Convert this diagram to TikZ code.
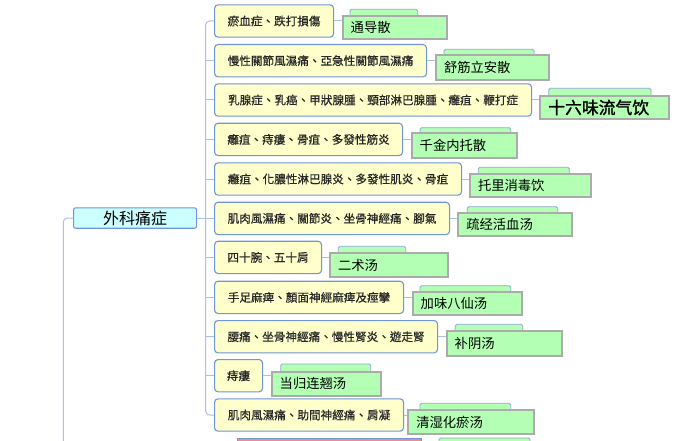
\documentclass[tikz,border=0pt]{standalone}
\usepackage{fontspec}
\newfontfamily\tcfont{Noto Sans CJK TC}
\newfontfamily\tcbold[FakeBold=0.5]{Noto Sans CJK TC}
\newfontfamily\scfont{Noto Sans CJK SC}
\newfontfamily\scbold[FakeBold=1.5]{Noto Sans CJK SC}
\definecolor{yfill}{HTML}{FFFFCC}
\definecolor{yborder}{HTML}{7096D8}
\definecolor{ytext}{HTML}{262626}
\definecolor{cfill}{HTML}{CCFFFF}
\definecolor{gfill}{HTML}{B3FFB3}
\definecolor{gborder}{HTML}{ABABAB}
\definecolor{tborder}{HTML}{8EA8D2}
\definecolor{linec}{HTML}{A9C0E8}
\definecolor{rfill}{HTML}{F28B8B}
\tikzset{
  ybox/.style={draw=yborder, fill=yfill, line width=1.1pt, rounded corners=3.5pt,
    anchor=north west, minimum height=32.3pt, inner sep=0pt, text=ytext,
    font={\tcbold\fontsize{11.6pt}{13pt}\selectfont}},
  mainbox/.style={draw=yborder, fill=cfill, line width=1.1pt, rounded corners=2pt,
    anchor=north west, minimum width=123pt, minimum height=20.4pt, inner sep=0pt,
    font={\tcfont\fontsize{16pt}{18pt}\selectfont}},
  gbox/.style={draw=gborder, fill=gfill, line width=2pt, anchor=north west,
    inner xsep=8pt, inner ysep=0pt, align=left, minimum height=23.8pt,
    font={\scfont\fontsize{13.3pt}{15pt}\selectfont}},
  gtab/.style={draw=tborder, fill=gfill, line width=0.8pt, rounded corners=1.5pt},
  conn/.style={draw=linec, line width=1pt},
}
\begin{document}
\begin{tikzpicture}[x=1pt,y=-1pt]
\useasboundingbox (0,0) rectangle (690,441);
\clip (0,0) rectangle (690,441);
\fill[white] (0,0) rectangle (690,441);

% tabs behind green boxes
\path[gtab] (350,9.3) rectangle (417.7,18);
\path[gtab] (444,49.3) rectangle (534,58);
\path[gtab] (548.7,88.3) rectangle (651,98);
\path[gtab] (420,127.7) rectangle (510.7,135);
\path[gtab] (478.3,167.3) rectangle (569.3,176);
\path[gtab] (467.3,206.7) rectangle (557.7,215);
\path[gtab] (338.3,246.3) rectangle (405.7,255);
\path[gtab] (420,285.7) rectangle (510.7,294);
\path[gtab] (455.3,324.3) rectangle (522.7,333);
\path[gtab] (280.7,364) rectangle (370.7,374);
\path[gtab] (420,403.3) rectangle (510.7,412);
\path[gtab] (439,438) rectangle (530,446);

% main node
\node[mainbox] (main) at (73,207.3) {外科痛症};

% yellow nodes
\node[ybox, minimum width=119pt] (y1) at (214,4.3) {瘀血症、跌打損傷};
\node[ybox, minimum width=212pt] (y2) at (214,44) {慢性關節風濕痛、亞急性關節風濕痛};
\node[ybox, minimum width=317pt] (y3) at (214,83.3) {乳腺症、乳癌、甲狀腺腫、頸部淋巴腺腫、癰疽、鞭打症};
\node[ybox, minimum width=188pt] (y4) at (214,122.7) {癰疽、痔瘻、骨疽、多發性筋炎};
\node[ybox, minimum width=247pt] (y5) at (214,162.3) {癰疽、化膿性淋巴腺炎、多發性肌炎、骨疽};
\node[ybox, minimum width=235pt] (y6) at (214,201.7) {肌肉風濕痛、關節炎、坐骨神經痛、腳氣};
\node[ybox, minimum width=107pt] (y7) at (214,240.7) {四十腕、五十肩};
\node[ybox, minimum width=189pt] (y8) at (214,280.7) {手足麻痺、顏面神經麻痺及痙攣};
\node[ybox, minimum width=223pt] (y9) at (214,320) {腰痛、坐骨神經痛、慢性腎炎、遊走腎};
\node[ybox, minimum width=48pt] (y10) at (214,359) {痔瘻};
\node[ybox, minimum width=189pt] (y11) at (214,398.3) {肌肉風濕痛、助間神經痛、肩凝};

% red node at the bottom (cut off)
\node[draw=yborder, fill=rfill, line width=1.1pt, anchor=north west,
      minimum width=184pt, minimum height=20pt, inner sep=0pt] (next) at (237,437.7) {};

% coordinates for free ends
\coordinate (bus) at (205.7,0);
\coordinate (rootbot) at (63.3,450);

% connectors (drawn before green boxes)
\draw[conn, rounded corners=4pt] (main.west) -| (rootbot);
\draw[conn] (main.east) -- (main.east -| bus);
\draw[conn, rounded corners=4pt] (y1.west) -- (y1.west -| bus) -- (y11.west -| bus) -- (y11.west);
\foreach \k in {2,...,10} {\draw[conn] (y\k.west) -- (y\k.west -| bus);}

% green nodes
\node[gbox, text width=88.3pt, minimum height=23pt] (g1) at (341.7,15.3) {通导散};
\node[gbox, text width=97.3pt, minimum height=24.7pt] (g2) at (435,54.3) {舒筋立安散};
\node[gbox, text width=113pt, minimum height=23.6pt, font={\scbold\fontsize{16.8pt}{18pt}\selectfont}] (g3) at (539.3,94.7) {十六味流气饮};
\node[gbox, text width=89.3pt, minimum height=25pt] (g4) at (410.7,131.7) {千金内托散};
\node[gbox, text width=105pt, minimum height=23.3pt] (g5) at (469,172.7) {托里消毒饮};
\node[gbox, text width=97.7pt, minimum height=23.3pt] (g6) at (457.3,212) {疏经活血汤};
\node[gbox, text width=102pt, minimum height=24pt] (g7) at (329,252) {二术汤};
\node[gbox, text width=93.3pt, minimum height=23pt] (g8) at (411.7,291) {加味八仙汤};
\node[gbox, text width=99.3pt, minimum height=25pt] (g9) at (445.7,330) {补阴汤};
\node[gbox, text width=93.3pt, minimum height=24.3pt] (g10) at (270.7,370.7) {当归连翘汤};
\node[gbox, text width=110pt, minimum height=23.4pt] (g11) at (407.3,409.3) {清湿化瘀汤};

% yellow -> green connectors
\foreach \k in {1,...,11} {\draw[conn] (y\k.east) -- (y\k.east -| g\k.west);}
\end{tikzpicture}
\end{document}
